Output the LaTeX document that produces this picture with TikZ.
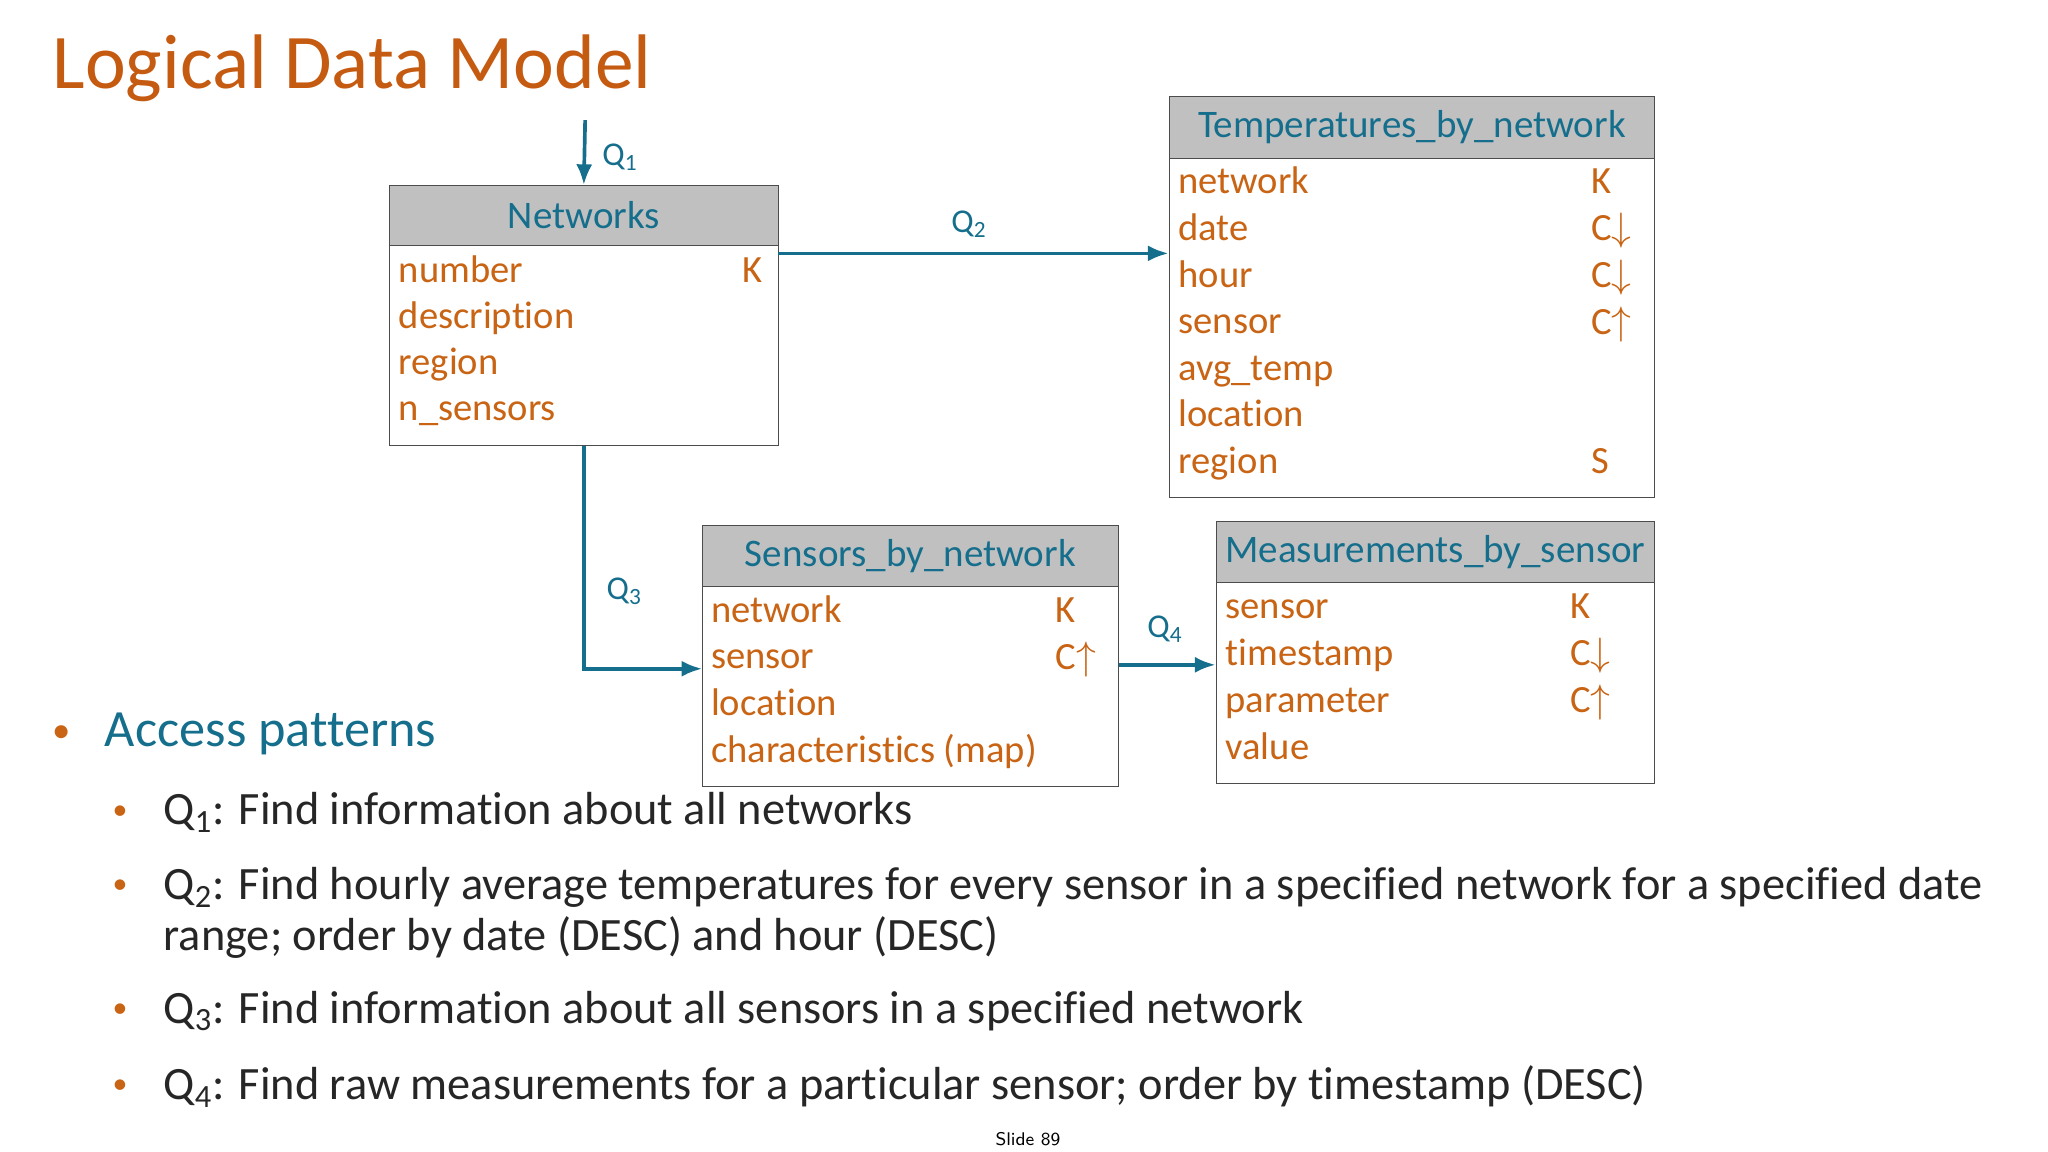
\documentclass[tikz,border=0pt]{standalone}
\usepackage{fontspec}
\setmainfont{Carlito}[Ligatures=NoCommon]
\usetikzlibrary{positioning,fit,arrows.meta}
\definecolor{ttl}{RGB}{197,90,17}
\definecolor{fld}{RGB}{200,100,20}
\definecolor{tl}{RGB}{20,110,140}
\definecolor{hdg}{RGB}{192,192,192}
\tikzset{
  hdr/.style={draw=black!70, fill=hdg, inner sep=0pt},
  bdy/.style={draw=black!70, fill=white, inner sep=0pt},
  fld/.style={anchor=west, text=fld, font=\fontsize{16.8}{18}\selectfont, inner sep=0pt, text height=0.72em, text depth=0.22em},
  htx/.style={text=tl, font=\fontsize{17}{19}\selectfont, inner sep=0pt},
  qlab/.style={text=tl, font=\fontsize{14.5}{16}\selectfont},
  conn/.style={draw=tl, line width=1.6pt, -{Latex[length=9pt,width=7pt]}},
  itm/.style={anchor=west, font=\fontsize{20.2}{22}\selectfont, text=black!85, inner sep=0pt, align=left},
  dot/.style={text=fld, font=\fontsize{16}{18}\selectfont, inner sep=0pt}
}
\begin{document}
\begin{tikzpicture}[x=0.02cm, y=-0.02cm]
    \useasboundingbox (0,0) rectangle (1568,882);
    % title
    \node[anchor=west, text=ttl, font=\fontsize{33.7}{36}\selectfont, inner sep=0pt] (title) at (40,52) {Logical Data Model};

    % Networks
    \node[hdr, fit={(298,142)(596,188)}] (netH) {};
    \node[htx] at (netH) {Networks};
    \node[bdy, fit={(298,188)(596,341)}] (netB) {};
    \foreach \t [count=\i] in {number,description,region,n\_sensors}
      \node[fld] at (305,{212+35.3*(\i-1)}) {\t};
    \node[fld] at (568,212) {K};

    % Temperatures_by_network
    \node[hdr, fit={(895,74)(1267,121)}] (tmpH) {};
    \node[htx] at (tmpH) {Temperatures\_by\_network};
    \node[bdy, fit={(895,121)(1267,381)}] (tmpB) {};
    \foreach \t [count=\i] in {network,date,hour,sensor,avg\_temp,location,region}
      \node[fld] at (902,{144+35.7*(\i-1)}) {\t};
    \foreach \k/\y in {K/144,C$\downarrow$/180,C$\downarrow$/216,C$\uparrow$/252,S/358}
      \node[fld] at (1218,\y) {\k};

    % Sensors_by_network
    \node[hdr, fit={(538,402)(856,449)}] (senH) {};
    \node[htx] at (senH) {Sensors\_by\_network};
    \node[bdy, fit={(538,449)(856,602)}] (senB) {};
    \foreach \t [count=\i] in {network,sensor,location,characteristics (map)}
      \node[fld] at (544,{472+35.7*(\i-1)}) {\t};
    \foreach \k/\y in {K/472,C$\uparrow$/508}
      \node[fld] at (808,\y) {\k};

    % Measurements_by_sensor
    \node[hdr, fit={(931,399)(1267,446)}] (meaH) {};
    \node[htx] at (meaH) {Measurements\_by\_sensor};
    \node[bdy, fit={(931,446)(1267,600)}] (meaB) {};
    \foreach \t [count=\i] in {sensor,timestamp,parameter,value}
      \node[fld] at (938,{469+36*(\i-1)}) {\t};
    \foreach \k/\y in {K/469,C$\downarrow$/505,C$\uparrow$/541}
      \node[fld] at (1202,\y) {\k};

    % connectors
    \coordinate (q1) at (448,92);
    \draw[conn] (q1) -- (netH.north);
    \node[qlab, anchor=west] at (455,120) {Q\textsubscript{1}};
    \draw[conn] (596,194) -- (tmpB.west |- 0,194);
    \node[qlab] at (742,172) {Q\textsubscript{2}};
    \draw[conn] (netB.south) |- (senB.west |- 0,512);
    \node[qlab] at (478,453) {Q\textsubscript{3}};
    \draw[conn] (senB.east |- 0,509) -- (meaB.west |- 0,509);
    \node[qlab] at (892,482) {Q\textsubscript{4}};

    % access patterns
    \node[dot] at (47,562) {•};
    \node[anchor=west, text=tl, font=\fontsize{22.8}{25}\selectfont, inner sep=0pt] (acc) at (80,562) {Access patterns};
    \foreach \y in {622,679,774,832}
      \node[dot, font=\fontsize{13}{15}\selectfont] at (92,\y) {•};
    \node[itm] (p1) at (125,622) {Q\textsubscript{1}: Find information about all networks};
    \node[itm, anchor=north west] (p2) at (125,664) {Q\textsubscript{2}: Find hourly average temperatures for every sensor in a specified network for a specified date\\range; order by date (DESC) and hour (DESC)};
    \node[itm] (p3) at (125,774) {Q\textsubscript{3}: Find information about all sensors in a specified network};
    \node[itm] (p4) at (125,832) {Q\textsubscript{4}: Find raw measurements for a particular sensor; order by timestamp (DESC)};
    \node[font=\sffamily\fontsize{8}{9}\selectfont] (slide) at (787,872) {Slide 89};
\end{tikzpicture}
\end{document}
